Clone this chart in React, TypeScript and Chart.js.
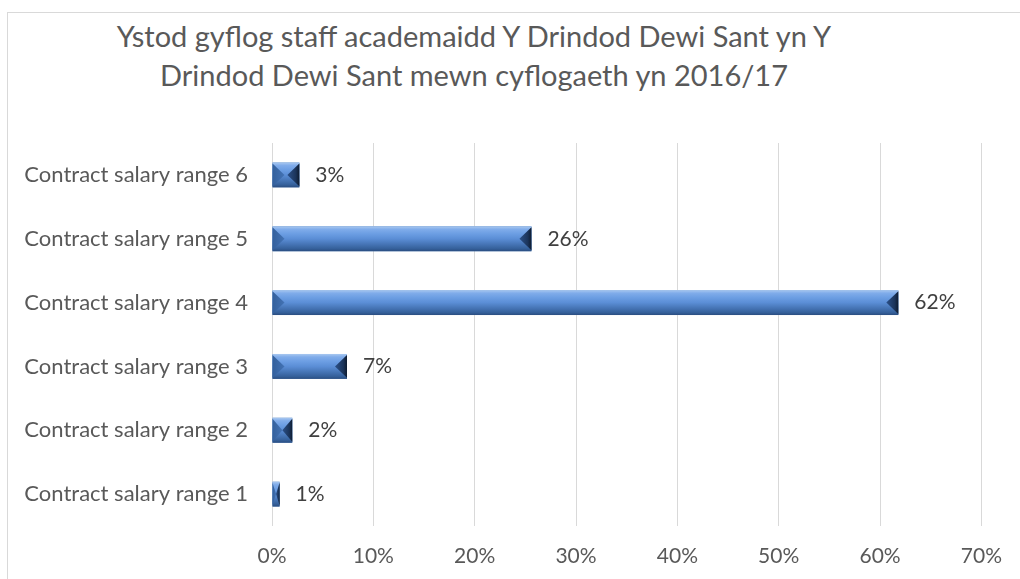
import React, { useEffect, useRef } from "react";
import { Chart, registerables } from "chart.js";

Chart.register(...registerables);

const titleLines = [
  "Ystod gyflog staff academaidd Y Drindod Dewi Sant yn Y",
  "Drindod Dewi Sant mewn cyflogaeth yn 2016/17",
];
const categories = [
  "Contract salary range 6",
  "Contract salary range 5",
  "Contract salary range 4",
  "Contract salary range 3",
  "Contract salary range 2",
  "Contract salary range 1",
];
const shares = [2.7, 25.6, 61.8, 7.4, 2.0, 0.75];
const valueLabels = ["3%", "26%", "62%", "7%", "2%", "1%"];
const axisMin = 0;
const axisMax = 70;
const axisStep = 10;

const FONT = "Lato";
const TEXT = "#595959";

const bevelPlugin = {
  id: "bevelBars",
  afterDatasetsDraw(chart: any) {
    const ctx = chart.ctx as CanvasRenderingContext2D;
    const meta = chart.getDatasetMeta(0);
    ctx.save();
    meta.data.forEach((el: any, i: number) => {
      const { x, y, base, height } = el.getProps(["x", "y", "base", "height"], true);
      const left = Math.min(x, base);
      const right = Math.max(x, base);
      const top = y - height / 2;
      const bottom = y + height / 2;
      const w = right - left;
      const b = Math.min(12, w / 2);
      // body
      const g = ctx.createLinearGradient(0, top, 0, bottom);
      g.addColorStop(0, "#a9c8f0");
      g.addColorStop(0.12, "#80acea");
      g.addColorStop(0.3, "#6c9ee3");
      g.addColorStop(0.5, "#5b8ed6");
      g.addColorStop(0.72, "#4675b6");
      g.addColorStop(0.9, "#35609a");
      g.addColorStop(1, "#2a4d80");
      ctx.fillStyle = g;
      ctx.fillRect(left, top, w, height);
      // left wedge
      const gl = ctx.createLinearGradient(left, 0, left + b, 0);
      gl.addColorStop(0, "#33609d");
      gl.addColorStop(1, "#4372b3");
      ctx.fillStyle = gl;
      ctx.beginPath();
      ctx.moveTo(left, top + 1);
      ctx.lineTo(left + b, y);
      ctx.lineTo(left, bottom - 1);
      ctx.closePath();
      ctx.fill();
      // right wedge
      const gr = ctx.createLinearGradient(right - b, 0, right, 0);
      gr.addColorStop(0, "#2b5088");
      gr.addColorStop(0.7, "#1b345a");
      gr.addColorStop(1, "#0e1c30");
      ctx.fillStyle = gr;
      ctx.beginPath();
      ctx.moveTo(right, top + 1);
      ctx.lineTo(right - b, y);
      ctx.lineTo(right, bottom - 1);
      ctx.closePath();
      ctx.fill();
      // value label
      ctx.fillStyle = "#404040";
      ctx.font = `21px ${FONT}`;
      ctx.textAlign = "left";
      ctx.textBaseline = "middle";
      ctx.fillText(valueLabels[i], right + 16, y);
    });
    ctx.restore();
  },
};

export default function App() {
  const ref = useRef<HTMLCanvasElement | null>(null);
  useEffect(() => {
    if (!ref.current) return;
    const chart = new Chart(ref.current, {
      type: "bar",
      data: {
        labels: categories,
        datasets: [
          {
            data: shares,
            backgroundColor: "#4f81bd",
            borderWidth: 0,
            categoryPercentage: 1,
            barPercentage: 0.39,
          },
        ],
      },
      options: {
        indexAxis: "y",
        animation: false,
        responsive: false,
        maintainAspectRatio: false,
        layout: { padding: { top: 143, right: 37, left: 0, bottom: 0 } },
        plugins: {
          legend: { display: false },
          tooltip: { enabled: false },
          title: { display: false },
        },
        scales: {
          x: {
            min: axisMin,
            max: axisMax,
            grid: { color: "#d9d9d9", lineWidth: 1, drawTicks: false },
            border: { display: false },
            ticks: {
              stepSize: axisStep,
              padding: 18,
              color: TEXT,
              font: { family: FONT, size: 21 },
              callback: (v: any) => `${v}%`,
            },
            afterFit: (s: any) => {
              s.height = 53;
            },
          },
          y: {
            grid: { display: false, drawTicks: false },
            border: { display: false },
            ticks: {
              padding: 24,
              color: TEXT,
              font: { family: FONT, size: 22 },
            },
            afterFit: (s: any) => {
              s.width = 272;
            },
          },
        },
      },
      plugins: [bevelPlugin],
    });
    return () => chart.destroy();
  }, []);

  return (
    <div
      style={{
        position: "fixed",
        left: 0,
        top: 0,
        width: 1020,
        height: 579,
        overflow: "hidden",
        background: "#ffffff",
      }}
    >
      <div
        style={{
          position: "absolute",
          left: 7,
          top: 12,
          width: 1200,
          height: 800,
          border: "1px solid #d9d9d9",
        }}
      />
      <div
        style={{
          position: "absolute",
          left: 0,
          top: 16,
          width: 948,
          textAlign: "center",
          fontFamily: FONT,
          fontSize: 29,
          lineHeight: "39px",
          color: TEXT,
          whiteSpace: "nowrap",
        }}
      >
        {titleLines.map((t) => (
          <div key={t}>{t}</div>
        ))}
      </div>
      <canvas
        ref={ref}
        width={1020}
        height={579}
        style={{ position: "absolute", left: 0, top: 0 }}
      />
    </div>
  );
}
